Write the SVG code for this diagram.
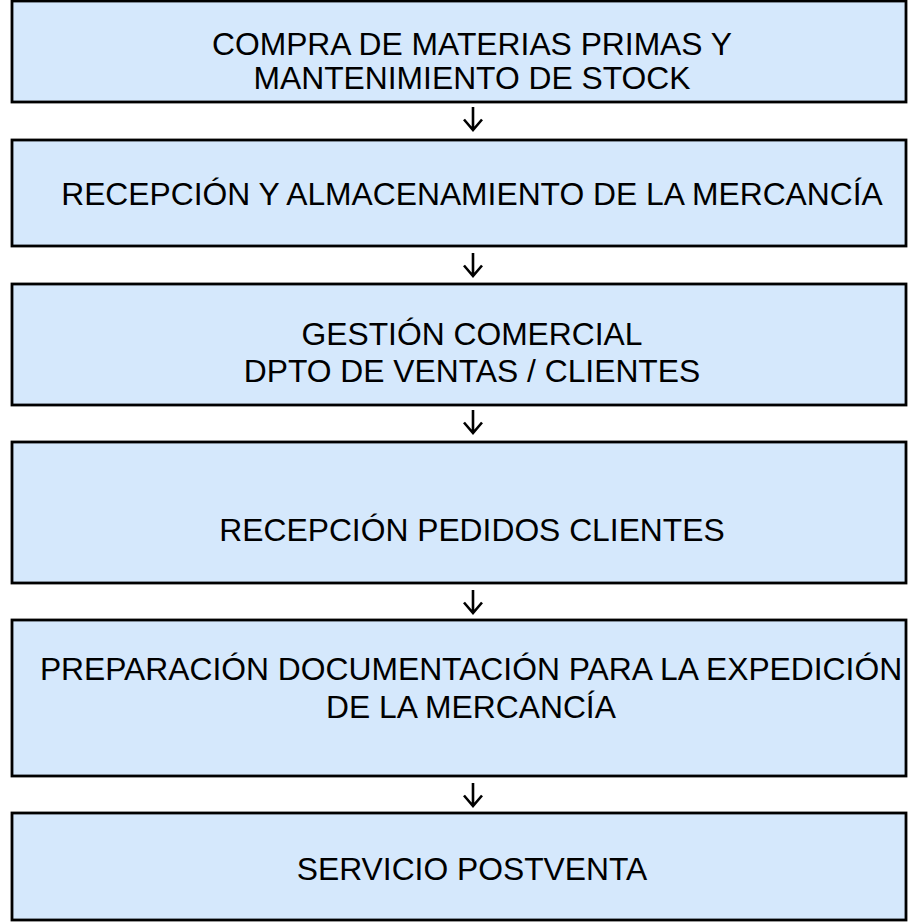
<svg xmlns="http://www.w3.org/2000/svg" width="919" height="923" viewBox="0 0 919 923">
<style>
.box{fill:#d5e8fc;stroke:#000;stroke-width:2.8}
.t{font-family:"Liberation Sans",Arial,sans-serif;font-size:31.8px;fill:#000;text-anchor:middle}
.arr{fill:none;stroke:#000;stroke-width:2.6}
</style>
<rect width="919" height="923" fill="#fff"/>
<g id="n1"><rect class="box" x="12" y="1" width="894" height="101"/>
<text class="t" x="472" y="55">COMPRA DE MATERIAS PRIMAS Y</text>
<text class="t" x="472" y="89">MANTENIMIENTO DE STOCK</text></g>
<g id="n2"><rect class="box" x="12" y="140" width="894" height="106"/>
<text class="t" x="472" y="205">RECEPCIÓN Y ALMACENAMIENTO DE LA MERCANCÍA</text></g>
<g id="n3"><rect class="box" x="12" y="284" width="894" height="121"/>
<text class="t" x="472" y="345">GESTIÓN COMERCIAL</text>
<text class="t" x="472" y="382">DPTO DE VENTAS / CLIENTES</text></g>
<g id="n4"><rect class="box" x="12" y="442" width="894" height="141"/>
<text class="t" x="472" y="541">RECEPCIÓN PEDIDOS CLIENTES</text></g>
<g id="n5"><rect class="box" x="12" y="620" width="894" height="156"/>
<text class="t" x="471" y="680">PREPARACIÓN DOCUMENTACIÓN PARA LA EXPEDICIÓN</text>
<text class="t" x="471" y="718">DE LA MERCANCÍA</text></g>
<g id="n6"><rect class="box" x="12" y="813" width="894" height="107"/>
<text class="t" x="472" y="880">SERVICIO POSTVENTA</text></g>
<g id="connectors">
<path class="arr" d="M473 107V129M464 119.5L473 130L482 119.5"/>
<path class="arr" d="M473 253V275M464 265.5L473 276L482 265.5"/>
<path class="arr" d="M473 410V432M464 422.5L473 433L482 422.5"/>
<path class="arr" d="M473 590V612M464 602.5L473 613L482 602.5"/>
<path class="arr" d="M473 783V805M464 795.5L473 806L482 795.5"/>
</g>
</svg>
